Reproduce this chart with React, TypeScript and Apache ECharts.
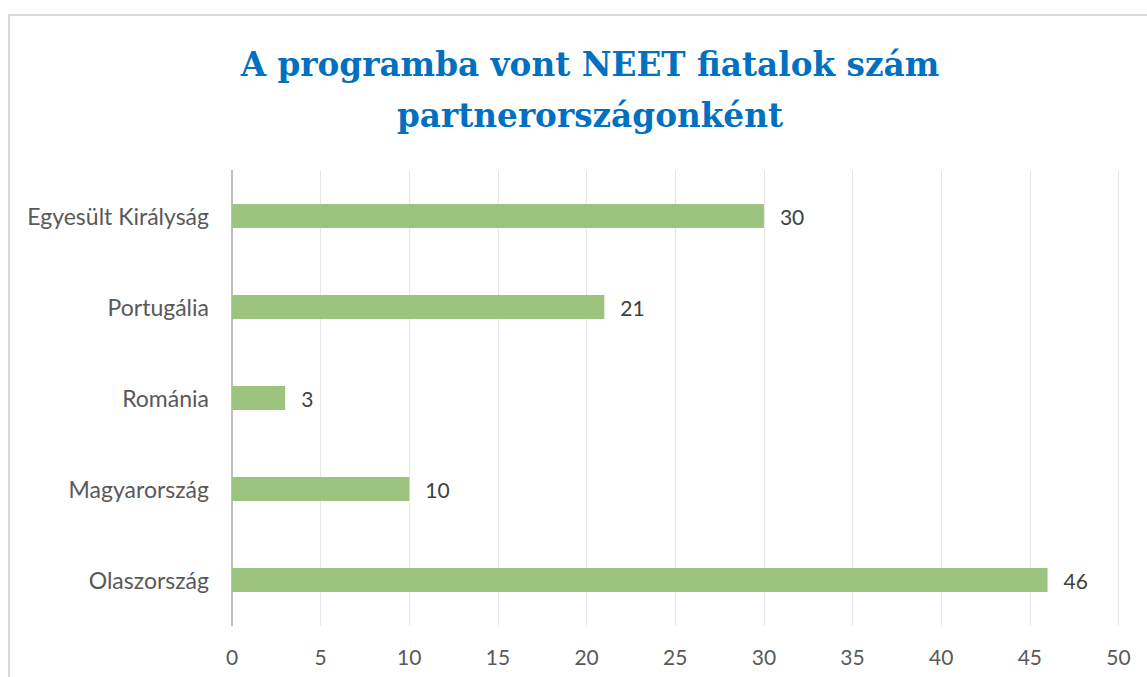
import React, { useEffect, useRef } from "react";
import * as echarts from "echarts";

const titleText = "A programba vont NEET fiatalok szám\npartnerországonként";
const categories = ["Olaszország", "Magyarország", "Románia", "Portugália", "Egyesült Királyság"];
const values = [46, 10, 3, 21, 30];
const axisMin = 0;
const axisMax = 50;
const axisInterval = 5;

export default function App() {
  const ref = useRef<HTMLDivElement>(null);
  useEffect(() => {
    const chart = echarts.init(ref.current!, undefined, { renderer: "svg" });
    chart.setOption({
      animation: false,
      backgroundColor: "#ffffff",
      title: {
        text: titleText,
        left: 585,
        textAlign: "center",
        top: 34,
        textStyle: {
          fontFamily: "DejaVu Serif",
          fontWeight: "bold",
          fontSize: 32.7,
          lineHeight: 51,
          color: "#0070C0",
        },
      },
      graphic: [
        {
          type: "rect",
          shape: { x: 9, y: 15, width: 1200, height: 700 },
          style: { fill: "none", stroke: "#d9d9d9", lineWidth: 2 },
          silent: true,
        },
      ],
      grid: { left: 232, right: 1147 - 1118.5, top: 170.5, bottom: 677 - 625.5, containLabel: false },
      xAxis: {
        type: "value",
        min: axisMin,
        max: axisMax,
        interval: axisInterval,
        axisLine: { show: false },
        axisTick: { show: false },
        splitLine: { lineStyle: { color: "#e6e6e6", width: 1 } },
        axisLabel: { color: "#595959", fontSize: 21, fontFamily: "Lato", margin: 20 },
      },
      yAxis: {
        type: "category",
        data: categories,
        axisLine: { show: true, lineStyle: { color: "#bfbfbf", width: 2 } },
        axisTick: { show: false },
        axisLabel: { color: "#595959", fontSize: 23, fontFamily: "Lato", margin: 23 },
      },
      series: [
        {
          type: "bar",
          data: values,
          barWidth: 24,
          itemStyle: { color: "#9dc47f" },
          label: {
            show: true,
            position: "right",
            distance: 16,
            color: "#404040",
            fontSize: 21,
            fontFamily: "Lato",
          },
        },
      ],
    });
    return () => chart.dispose();
  }, []);
  return (
    <div
      ref={ref}
      style={{ position: "absolute", left: 0, top: 0, width: 1147, height: 677 }}
    />
  );
}
